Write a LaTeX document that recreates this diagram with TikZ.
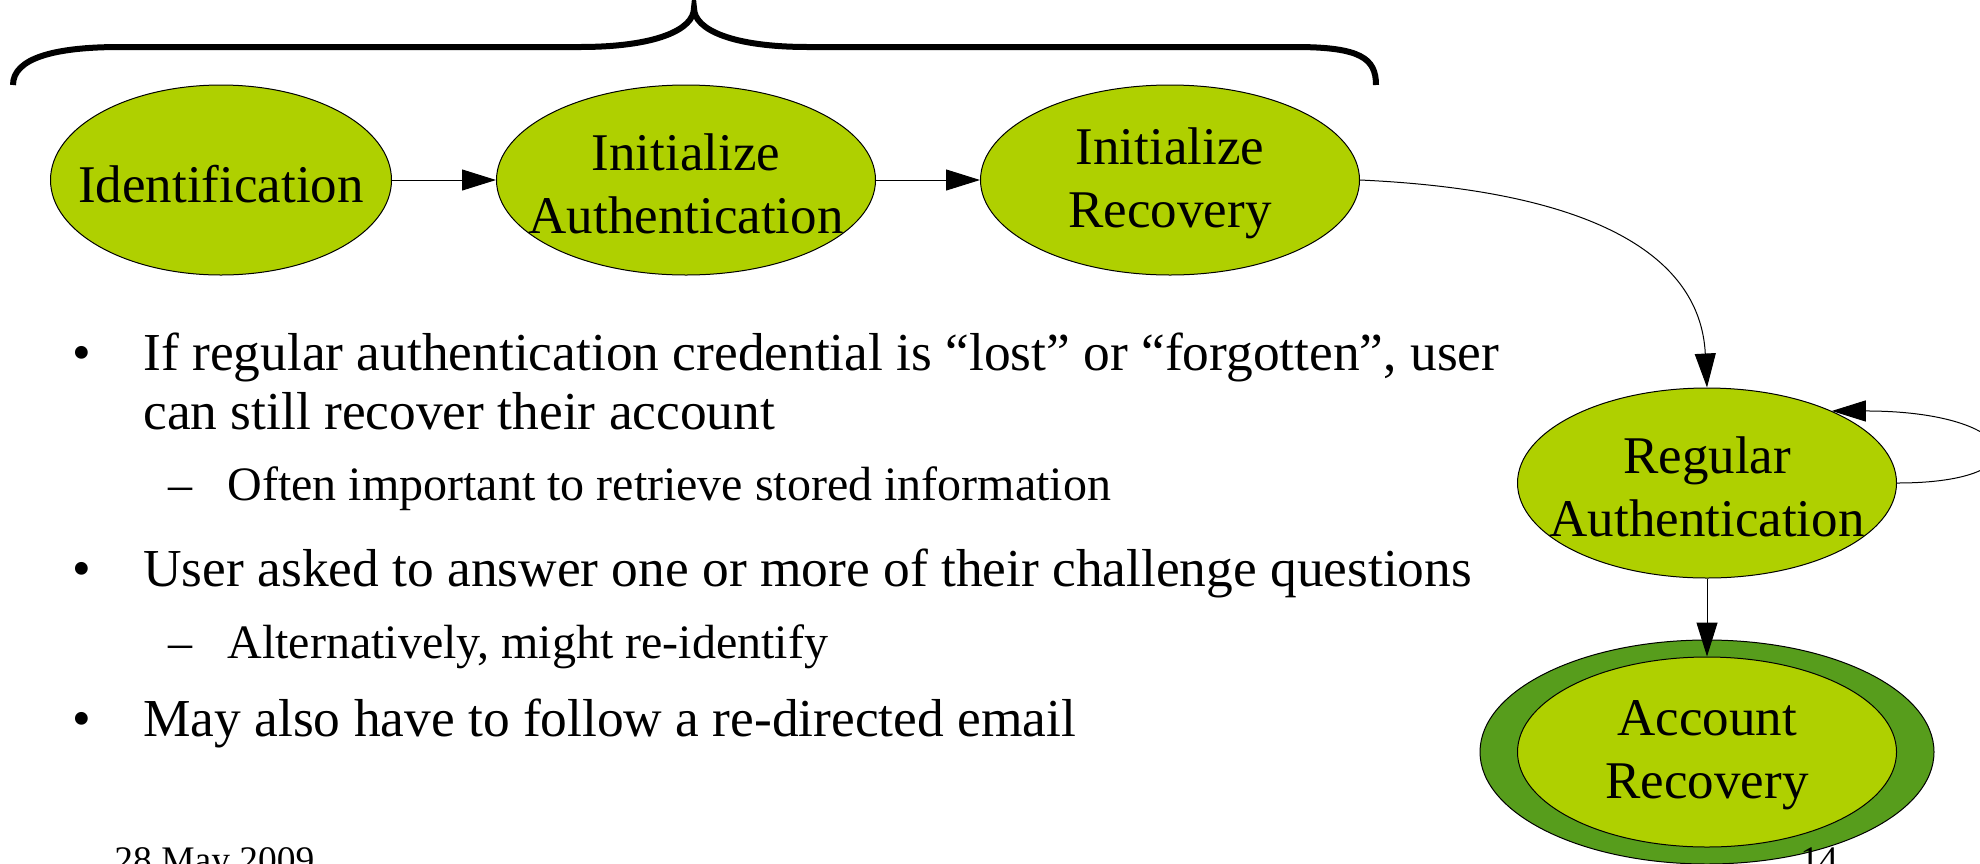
\documentclass[tikz,border=0pt]{standalone}
\usepackage{fontspec}
\setmainfont{Liberation Serif}
\usetikzlibrary{shapes.geometric,arrows.meta}
\definecolor{lime}{HTML}{AFD000}
\definecolor{dgreen}{HTML}{579D1C}
\begin{document}
\begin{tikzpicture}[x=0.5pt,y=-0.5pt,
  st/.style={ellipse,draw=black,line width=0.5pt,fill=lime,inner sep=0pt,minimum width=189.5pt,minimum height=95pt},
  lab/.style={inner sep=0pt,align=center,yshift=-1.8pt,font=\fontsize{26.5}{31.5}\selectfont},
  arr/.style={-{Triangle[length=17pt,width=10.5pt]},line width=0.5pt},
  txt/.style={anchor=base west,inner sep=0pt,font=\fontsize{26.7}{32}\selectfont},
  subtxt/.style={anchor=base west,inner sep=0pt,font=\fontsize{24}{28}\selectfont},
  foot/.style={anchor=base west,inner sep=0pt,font=\fontsize{18.75}{22}\selectfont}]
\useasboundingbox (0,0) rectangle (1980,863);
% brace
\draw[line width=3pt] (13,85) .. controls (13,58) and (55,47) .. (120,47) -- (580,47)
  .. controls (655,47) and (694,30) .. (694,8)
  .. controls (694,30) and (733,47) .. (808,47) -- (1295,47)
  .. controls (1360,47) and (1376,58) .. (1376,85);
% states
\node[st,minimum width=170.5pt] (id) at (221,180) {};
\node[lab] (idl) at (id.center) {Identification};
\node[st] (ia) at (686,180) {};
\node[lab] (ial) at (ia.center) {Initialize\\Authentication};
\node[st] (ir) at (1170,180) {};
\node[lab] (irl) at (ir.center) {Initialize\\Recovery};
\node[st] (reg) at (1707,483) {};
\node[lab] (regl) at (reg.center) {Regular\\Authentication};
\node[ellipse,draw=black,line width=0.5pt,fill=dgreen,inner sep=0pt,minimum width=227pt,minimum height=112pt] (arout) at (1707,752) {};
\node[st] (ar) at (1707,752) {};
\node[lab] (arl) at (ar.center) {Account\\Recovery};
% edges
\draw[arr] (id.east) -- (ia.west);
\draw[arr] (ia.east) -- (ir.west);
\draw[arr] (ir.east) .. controls +(221,10) and +(-7,-138) .. (reg.north);
\draw[arr] (reg.east) .. controls +(150,0) and +(190,0) .. (reg.30);
\draw[arr] (reg.south) -- (ar.north);
% bullets
\node[txt] (d1) at (72,370) {•};
\node[txt] (t1) at (143,370) {If regular authentication credential is “lost” or “forgotten”, user};
\node[txt] (t1b) at (143,429) {can still recover their account};
\node[subtxt] (s1) at (168,500) {–};
\node[subtxt] (u1) at (227,500) {Often important to retrieve stored information};
\node[txt] (d2) at (72,586) {•};
\node[txt] (t2) at (143,586) {User asked to answer one or more of their challenge questions};
\node[subtxt] (s2) at (168,658) {–};
\node[subtxt] (u2) at (227,658) {Alternatively, might re-identify};
\node[txt] (d3) at (72,736) {•};
\node[txt] (t3) at (143,736) {May also have to follow a re-directed email};
% footer
\node[foot] (date) at (114,872) {28 May 2009};
\node[foot] (page) at (1800,872) {14};
\end{tikzpicture}
\end{document}
